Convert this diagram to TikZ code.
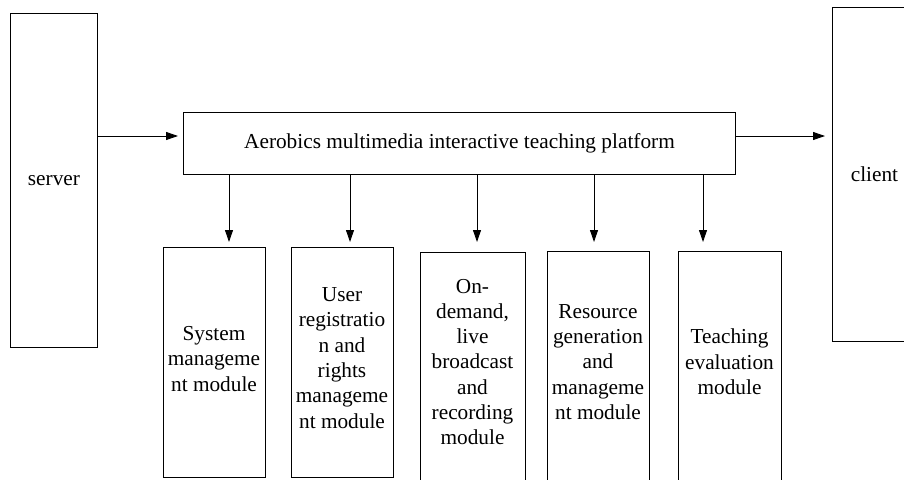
\documentclass[tikz,border=0pt]{standalone}
\usepackage{fontspec}
\setmainfont{Liberation Serif}
\newfontfamily\diagserif{Liberation Serif}
\usetikzlibrary{arrows.meta}
\newcommand{\txtfont}{\diagserif\fontsize{21.3}{25.3}\selectfont}
\begin{document}
\begin{tikzpicture}[x=1pt,y=-1pt,
  box/.style={draw, line width=0.9pt, inner sep=0pt, anchor=north west, align=center, font=\txtfont},
  txt/.style={inner sep=0pt, align=center, font=\txtfont},
  arr/.style={draw, line width=0.9pt, -{Triangle[length=12pt,width=8pt]}}]
\useasboundingbox (0,0) rectangle (904,479);
\clip (0,0) rectangle (904,479);
\node[box, minimum width=87pt, minimum height=334pt] (server) at (10,13) {server};
\node[box, minimum width=552pt, minimum height=62pt] (plat) at (183,112) {Aerobics multimedia interactive teaching platform};
\node[box, minimum width=84pt, minimum height=334pt] (client) at (832,7) {client};
\node[box, minimum width=102pt, minimum height=230pt] (sys) at (163,247) {};
\node[box, minimum width=102pt, minimum height=230pt] (user) at (291,247) {};
\node[box, minimum width=105pt, minimum height=250pt] (ond) at (420,252) {};
\node[box, minimum width=102pt, minimum height=250pt] (res) at (547,251) {};
\node[box, minimum width=103pt, minimum height=250pt] (tea) at (678,251) {};
\node[txt] (syst) at (214,359) {System\\manageme\\nt module};
\node[txt] (usert) at (342,358) {User\\registratio\\n and\\rights\\manageme\\nt module};
\node[txt] (ondt) at (472.5,362) {On-\\demand,\\live\\broadcast\\and\\recording\\module};
\node[txt] (rest) at (598,362) {Resource\\generation\\and\\manageme\\nt module};
\node[txt] (teat) at (729.5,362) {Teaching\\evaluation\\module};
\coordinate (lvl) at (0,136);
\coordinate (e1) at (229,242);
\coordinate (e2) at (350,242);
\coordinate (e3) at (477,242);
\coordinate (e4) at (594,242);
\coordinate (e5) at (703,242);
\draw[arr, shorten >=5pt] (server.east |- lvl) -- (plat.west |- lvl);
\draw[arr, shorten >=7pt] (plat.east |- lvl) -- (client.west |- lvl);
\draw[arr] (plat.south -| e1) -- (e1);
\draw[arr] (plat.south -| e2) -- (e2);
\draw[arr] (plat.south -| e3) -- (e3);
\draw[arr] (plat.south -| e4) -- (e4);
\draw[arr] (plat.south -| e5) -- (e5);
\end{tikzpicture}
\end{document}
